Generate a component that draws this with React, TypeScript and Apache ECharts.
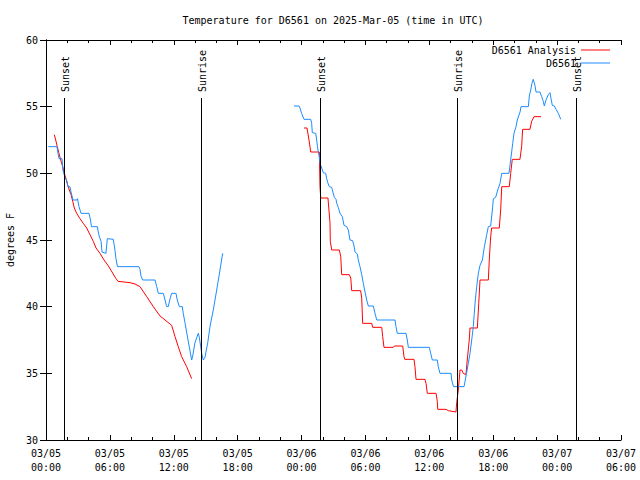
import React, { useEffect, useRef } from "react";
import * as echarts from "echarts";

// Hours since 2025-03-05 00:00 UTC
const xTickLabels = [
  "03/05\n00:00", "03/05\n06:00", "03/05\n12:00", "03/05\n18:00",
  "03/06\n00:00", "03/06\n06:00", "03/06\n12:00", "03/06\n18:00",
  "03/07\n00:00", "03/07\n06:00",
];

const sunTimes = [1.72, 14.56, 25.73, 38.6, 49.77];
const sunLabels = ["Sunset", "Sunrise", "Sunset", "Sunrise", "Sunset"];

// D6561 Analysis (red), first segment
const analysis1Times = [0.78, 0.91, 1.06, 1.22, 1.38, 1.57, 1.72, 1.88, 2.04, 2.19, 2.35, 2.51, 2.66, 2.88, 3.19, 3.5, 3.82, 4.13, 4.44, 4.7, 5.07, 5.45, 5.82, 6.2, 6.57, 6.76, 7.89, 8.36, 8.83, 9.46, 10.08, 10.71, 11.18, 11.65, 11.8, 12.12, 12.42, 12.74, 13.21, 13.68];
const analysis1Temps = [52.9, 52.5, 52.0, 51.5, 51.0, 50.5, 50.0, 49.6, 49.1, 48.75, 48.4, 47.9, 47.4, 47.0, 46.6, 46.25, 45.9, 45.4, 44.9, 44.4, 44.0, 43.5, 43.1, 42.6, 42.1, 41.9, 41.8, 41.7, 41.5, 40.75, 40.0, 39.3, 39.0, 38.7, 38.6, 37.75, 37.0, 36.25, 35.5, 34.6];

// D6561 Analysis (red), second segment
const analysis2Times = [24.23, 24.51, 24.7, 24.86, 25.67, 25.73, 25.8, 26.48, 26.67, 26.7, 26.83, 27.55, 27.68, 27.77, 28.48, 28.62, 28.71, 29.55, 29.65, 29.74, 30.59, 30.68, 31.53, 31.62, 31.74, 32.62, 32.71, 33.5, 33.62, 33.69, 34.56, 34.65, 34.75, 35.59, 35.69, 35.81, 36.63, 36.75, 36.79, 37.57, 37.78, 38.5, 38.57, 38.72, 38.88, 39.04, 39.19, 39.44, 39.56, 39.75, 39.82, 40.51, 40.64, 40.76, 41.54, 41.63, 41.76, 41.85, 42.57, 42.7, 42.8, 43.51, 43.64, 43.79, 44.51, 44.67, 44.76, 45.45, 45.61, 45.83, 46.49];
const analysis2Temps = [53.4, 53.4, 52.5, 51.6, 51.6, 49.0, 48.15, 48.15, 46.3, 44.9, 44.25, 44.25, 43.75, 42.4, 42.4, 42.15, 41.2, 41.2, 40.65, 38.75, 38.75, 38.45, 38.45, 37.75, 36.95, 36.95, 37.05, 37.05, 36.25, 36.05, 36.05, 35.5, 34.55, 34.55, 34.25, 33.5, 33.5, 32.9, 32.3, 32.3, 32.2, 32.1, 32.8, 33.75, 35.25, 35.25, 35.0, 34.9, 36.0, 37.5, 38.4, 38.4, 40.25, 42.0, 42.0, 43.5, 45.25, 45.9, 45.9, 47.25, 49.0, 49.0, 50.0, 51.05, 51.05, 52.0, 53.3, 53.3, 53.9, 54.25, 54.25];

// D6561 observations (blue), first segment
const obs1Times = [0.23, 1.03, 1.13, 1.22, 1.5, 1.6, 1.78, 1.97, 2.07, 2.25, 2.35, 2.54, 2.91, 2.96, 3.1, 3.29, 4.04, 4.18, 4.27, 4.82, 4.91, 5.01, 5.17, 5.26, 5.63, 5.76, 6.32, 6.39, 6.48, 6.57, 6.71, 8.73, 8.83, 8.92, 9.08, 10.24, 10.4, 10.55, 11.02, 11.18, 11.33, 11.48, 11.65, 11.8, 12.21, 12.33, 12.52, 12.8, 12.89, 13.05, 13.34, 13.68, 13.78, 13.99, 14.3, 14.4, 14.53, 14.62, 14.77, 14.93, 15.19, 15.4, 15.71, 16.03, 16.34, 16.59];
const obs1Temps = [52.0, 52.0, 51.5, 51.1, 51.1, 50.2, 49.7, 49.4, 49.0, 49.0, 48.6, 48.0, 48.0, 48.1, 47.5, 47.0, 47.0, 46.5, 46.0, 46.0, 45.6, 45.25, 44.9, 44.1, 44.0, 45.1, 45.05, 44.7, 44.2, 43.6, 43.0, 43.0, 42.8, 42.3, 42.0, 42.0, 41.5, 41.0, 41.0, 40.5, 40.0, 40.0, 40.6, 41.0, 41.0, 40.5, 40.0, 40.0, 39.5, 38.8, 37.5, 36.0, 36.3, 37.3, 38.0, 37.7, 37.0, 36.5, 36.0, 36.2, 37.3, 38.5, 39.75, 41.25, 42.75, 44.0];

// D6561 observations (blue), second segment
const obs2Times = [23.29, 23.76, 23.85, 24.01, 24.23, 24.86, 24.95, 25.01, 25.33, 25.42, 25.48, 25.57, 25.67, 25.73, 25.89, 26.04, 26.27, 26.36, 26.46, 26.61, 26.83, 26.89, 27.08, 27.24, 27.3, 27.45, 27.61, 27.83, 27.99, 28.24, 28.39, 28.55, 28.8, 28.93, 29.02, 29.24, 29.33, 29.49, 29.65, 29.8, 29.96, 30.12, 30.27, 30.74, 30.9, 31.06, 32.78, 32.87, 32.99, 33.81, 33.93, 34.03, 36.0, 36.13, 36.28, 36.75, 36.84, 37.0, 38.04, 38.1, 38.27, 39.26, 39.47, 39.66, 39.82, 39.98, 40.13, 40.22, 40.32, 40.45, 40.6, 40.76, 40.98, 41.17, 41.39, 41.54, 41.76, 41.95, 42.01, 42.23, 42.42, 42.64, 42.8, 43.48, 43.64, 43.83, 43.95, 44.14, 44.26, 44.52, 44.61, 45.3, 45.39, 45.52, 45.64, 45.76, 45.92, 46.02, 46.39, 46.55, 46.7, 46.8, 46.96, 47.17, 47.33, 47.43, 47.55, 47.74, 47.9, 48.12, 48.34];
const obs2Temps = [55.05, 55.05, 54.9, 54.5, 54.05, 54.05, 53.75, 53.05, 53.0, 52.5, 52.1, 51.6, 51.25, 50.75, 50.4, 50.05, 50.0, 49.6, 49.3, 49.0, 48.95, 48.75, 48.2, 48.05, 47.75, 47.45, 47.0, 46.75, 46.1, 46.0, 45.75, 45.0, 44.95, 44.55, 44.1, 43.95, 43.5, 43.0, 42.4, 41.75, 41.1, 40.5, 40.05, 40.05, 39.5, 39.0, 39.0, 38.5, 38.0, 38.0, 37.5, 36.95, 36.95, 36.5, 36.0, 36.0, 35.5, 35.0, 35.0, 34.5, 34.0, 34.0, 34.9, 35.75, 36.5, 37.5, 38.5, 39.5, 40.5, 41.5, 42.5, 43.1, 43.5, 44.5, 45.4, 46.0, 46.05, 47.5, 48.1, 48.2, 48.75, 49.25, 50.0, 50.0, 51.0, 52.25, 53.0, 53.5, 54.0, 54.6, 55.0, 55.0, 55.8, 56.25, 56.75, 57.05, 56.6, 56.1, 56.1, 55.75, 55.4, 55.05, 55.5, 55.9, 56.05, 55.6, 55.1, 55.05, 54.8, 54.5, 54.05];

const X_MIN = 0;
const X_MAX = 54;
const Y_MIN = 30;
const Y_MAX = 60;
const SUN_LINE_TOP = 55.65;
const SUN_LABEL_BASE = 56.1;

const FONT = '"DejaVu Sans Mono", "Liberation Mono", monospace';
const RED = "#ff0000";
const BLUE = "#1a8cff";

const zip = (a: number[], b: number[]) => a.map((t, i) => [t, b[i]]);

export default function App() {
  const ref = useRef<HTMLDivElement>(null);

  useEffect(() => {
    if (!ref.current) return;
    const chart = echarts.init(ref.current, undefined, { renderer: "svg" });

    const axisLine = { show: true, lineStyle: { color: "#000", width: 1 } };
    const xBase = {
      type: "value" as const,
      min: X_MIN,
      max: X_MAX,
      interval: 6,
      axisLine,
      axisTick: { show: true, inside: true, length: 5, lineStyle: { color: "#000" } },
      minorTick: { show: true, splitNumber: 3, length: 3, lineStyle: { color: "#000" } },
      splitLine: { show: false },
      minorSplitLine: { show: false },
    };
    const yBase = {
      type: "value" as const,
      min: Y_MIN,
      max: Y_MAX,
      interval: 5,
      axisLine,
      axisTick: { show: true, inside: true, length: 6, lineStyle: { color: "#000" } },
      splitLine: { show: false },
    };
    const legendBase = {
      right: 30,
      align: "right" as const,
      orient: "vertical" as const,
      icon: "rect",
      itemWidth: 29,
      itemHeight: 1,
      padding: 0,
      itemGap: 0,
      selectedMode: false,
      textStyle: { fontFamily: FONT, fontSize: 10, color: "#000" },
    };

    chart.setOption({
      animation: false,
      textStyle: { fontFamily: FONT },
      grid: { left: 46, right: 19, top: 40, bottom: 40, containLabel: false, outerBoundsMode: "none" },
      graphic: [
        {
          type: "text",
          x: 333,
          y: 20,
          style: {
            text: "Temperature for D6561 on 2025-Mar-05 (time in UTC)",
            font: `10px ${FONT}`,
            fill: "#000",
            align: "center",
            verticalAlign: "middle",
            textAlign: "center",
            textVerticalAlign: "middle",
          },
        },
      ],
      legend: [
        { ...legendBase, top: 45, data: ["D6561 Analysis"] },
        { ...legendBase, top: 58, data: ["D6561"] },
      ],
      xAxis: [
        {
          ...xBase,
          position: "bottom",
          axisLabel: {
            show: true,
            margin: 6,
            color: "#000",
            fontFamily: FONT,
            fontSize: 10,
            lineHeight: 14,
            formatter: (v: number) => xTickLabels[Math.round(v / 6)] ?? "",
          },
        },
        { ...xBase, position: "top", axisLabel: { show: false } },
      ],
      yAxis: [
        {
          ...yBase,
          position: "left",
          name: "degrees F",
          nameLocation: "middle",
          nameGap: 31,
          nameTextStyle: { fontFamily: FONT, fontSize: 10, color: "#000" },
          axisLabel: { show: true, margin: 8, color: "#000", fontFamily: FONT, fontSize: 10 },
        },
        { ...yBase, position: "right", axisLabel: { show: false } },
      ],
      series: [
        {
          name: "D6561 Analysis",
          type: "line",
          data: zip(analysis1Times, analysis1Temps),
          symbol: "none",
          color: RED,
          lineStyle: { width: 1, color: RED },
        },
        {
          name: "D6561 Analysis",
          type: "line",
          data: zip(analysis2Times, analysis2Temps),
          symbol: "none",
          color: RED,
          lineStyle: { width: 1, color: RED },
        },
        {
          name: "D6561",
          type: "line",
          data: zip(obs1Times, obs1Temps),
          symbol: "none",
          color: BLUE,
          lineStyle: { width: 1, color: BLUE },
        },
        {
          name: "D6561",
          type: "line",
          data: zip(obs2Times, obs2Temps),
          symbol: "none",
          color: BLUE,
          lineStyle: { width: 1, color: BLUE },
        },
        {
          name: "sun",
          type: "custom",
          z: 10,
          data: sunTimes.map((t) => [t, Y_MIN]),
          renderItem: (params: any, api: any) => {
            const t = api.value(0);
            const b = api.coord([t, Y_MIN]);
            const tp = api.coord([t, SUN_LINE_TOP]);
            const lp = api.coord([t, SUN_LABEL_BASE]);
            return {
              type: "group",
              children: [
                {
                  type: "line",
                  shape: { x1: Math.round(b[0]) + 0.5, y1: b[1], x2: Math.round(tp[0]) + 0.5, y2: tp[1] },
                  style: { stroke: "#000", lineWidth: 1 },
                },
                {
                  type: "text",
                  x: b[0] + 1.5,
                  y: lp[1],
                  rotation: Math.PI / 2,
                  style: {
                    text: sunLabels[params.dataIndex],
                    font: `10px ${FONT}`,
                    fill: "#000",
                    align: "left",
                    verticalAlign: "middle",
                    textAlign: "left",
                    textVerticalAlign: "middle",
                  },
                },
              ],
            };
          },
        },
      ],
    });

    return () => chart.dispose();
  }, []);

  return (
    <div
      ref={ref}
      style={{ position: "absolute", left: 0, top: 0, width: 640, height: 480, background: "#fff" }}
    />
  );
}
